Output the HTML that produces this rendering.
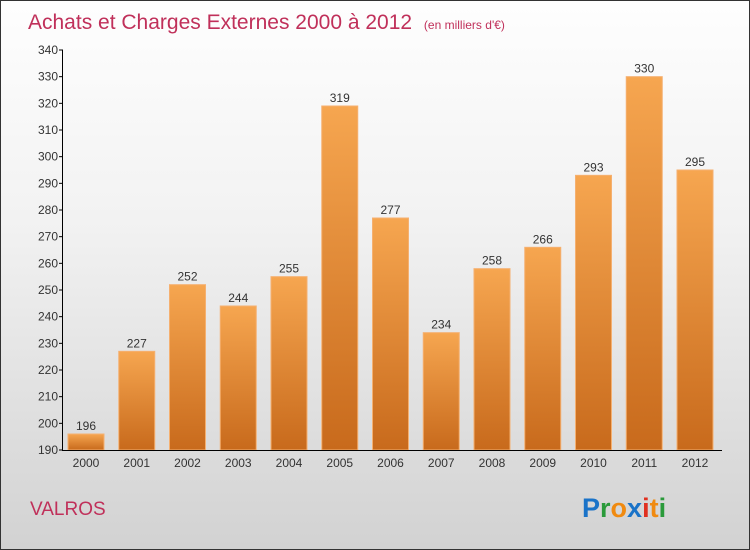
<!DOCTYPE html>
<html><head><meta charset="utf-8"><style>
body{margin:0;}
#c{width:748px;height:548px;border:1px solid #333;background:linear-gradient(#fefefe,#f2f2f2 40%,#d2d2d2);position:relative;overflow:hidden;font-family:"Liberation Sans",sans-serif;}
</style></head><body>
<div id="c">
<svg width="748" height="548" id="s">
<defs><linearGradient id="g" x1="0" y1="0" x2="0" y2="1"><stop offset="0" stop-color="#f6a650"/><stop offset="1" stop-color="#c86a1c"/></linearGradient></defs>
<text x="27" y="28" font-size="21" fill="#c0305a">Achats et Charges Externes 2000 à 2012 <tspan font-size="12" dx="6">(en milliers d'€)</tspan></text>
<text x="29" y="514" font-size="19" fill="#c0305a">VALROS</text>
<g font-size="27" font-weight="bold" font-family="Liberation Sans, sans-serif">
<text x="581" y="516"><tspan fill="#1a73c8">P</tspan><tspan fill="#2a9a3a">r</tspan><tspan fill="#f08a10">o</tspan><tspan fill="#1a73c8">x</tspan><tspan fill="#e03020">i</tspan><tspan fill="#f08a10">t</tspan><tspan fill="#2a9a3a">i</tspan></text></g>
</svg>
</div>
<script>
const years=["2000","2001","2002","2003","2004","2005","2006","2007","2008","2009","2010","2011","2012"];
const values=[196,227,252,244,255,319,277,234,258,266,293,330,295];
const ticks=[190,200,210,220,230,240,250,260,270,280,290,300,310,320,330,340];
const NS="http://www.w3.org/2000/svg",s=document.getElementById('s');
const y=v=>449-(v-190)*400/150, x=i=>85+i*50.75;
function el(t,a,txt){const e=document.createElementNS(NS,t);for(const k in a)e.setAttribute(k,a[k]);if(txt!=null)e.textContent=txt;s.appendChild(e);return e;}
values.forEach((v,i)=>{
const r=el('rect',{x:x(i)-18,y:y(v),width:36,height:449-y(v),fill:'url(#g)',stroke:'#f5b070','stroke-width':1});


const t=el('text',{x:x(i),y:y(v)-4,'font-size':12,fill:'#333','text-anchor':'middle'},v);


const l=el('text',{x:x(i),y:466,'font-size':12,fill:'#333','text-anchor':'middle'},years[i]);


});
ticks.forEach(v=>{
const tk=el('line',{x1:58,x2:62,y1:y(v),y2:y(v),stroke:'#000'});


const t=el('text',{x:57,y:y(v)+4,'font-size':12,fill:'#333','text-anchor':'end'},v);


});
const ya=el('line',{x1:61.5,x2:61.5,y1:y(340),y2:450,stroke:'#000'});


const xa=el('line',{x1:61,x2:721,y1:449.5,y2:449.5,stroke:'#000'});


</script>
</body></html>
